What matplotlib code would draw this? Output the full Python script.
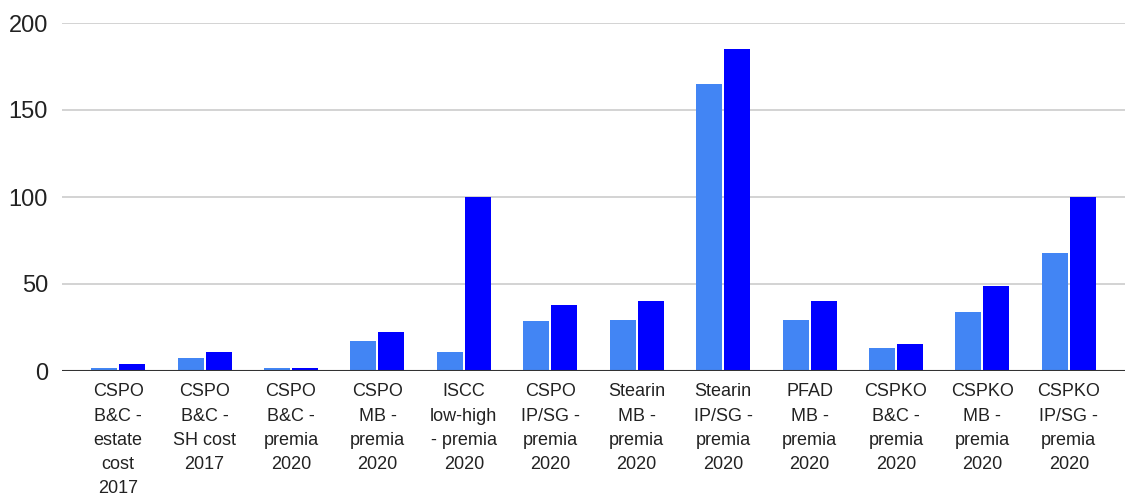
import numpy as np
import matplotlib.pyplot as plt

plt.rcParams['font.family'] = ['Liberation Sans', 'DejaVu Sans']

# categories and values
categories = ['CSPO\nB&C -\nestate\ncost\n2017', 'CSPO\nB&C -\nSH cost\n2017',
              'CSPO\nB&C -\npremia\n2020', 'CSPO\nMB -\npremia\n2020',
              'ISCC\nlow-high\n- premia\n2020', 'CSPO\nIP/SG -\npremia\n2020',
              'Stearin\nMB -\npremia\n2020', 'Stearin\nIP/SG -\npremia\n2020',
              'PFAD\nMB -\npremia\n2020', 'CSPKO\nB&C -\npremia\n2020',
              'CSPKO\nMB -\npremia\n2020', 'CSPKO\nIP/SG -\npremia\n2020']
low_values = [2, 7.5, 2, 17, 11, 28.5, 29.5, 165, 29.5, 13.5, 34, 68]
high_values = [4, 11, 1.8, 22.5, 100, 38, 40, 185, 40, 15.7, 49, 100]
y_ticks = [0, 50, 100, 150, 200]

x = np.arange(len(categories))
w = 0.30

fig = plt.figure(figsize=(11.31, 4.95), dpi=100)
ax = fig.add_axes([62 / 1131, 1 - 371 / 495, (1125 - 62) / 1131, (371 - 23) / 495])

ax.bar(x - w / 2 - 0.012, low_values, width=w, color='#4285F4', zorder=3)
ax.bar(x + w / 2 + 0.012, high_values, width=w, color='#0000FF', zorder=3)

ax.set_xlim(-0.65, len(categories) - 0.35)
ax.set_ylim(0, 200)
ax.set_yticks(y_ticks)
ax.set_yticklabels([str(t) for t in y_ticks], fontsize=17, color='#222222')
ax.set_xticks(x)
ax.set_xticklabels(categories, fontsize=13, color='#222222', linespacing=1.55, va='top')
ax.tick_params(axis='both', length=0)
ax.tick_params(axis='y', pad=10)
ax.tick_params(axis='x', pad=9)

ax.grid(axis='y', color='#cccccc', linewidth=1.2, zorder=0)
ax.axhline(0, color='#333333', linewidth=1.5, zorder=4)
for s in ax.spines.values():
    s.set_visible(False)

fig.savefig('out.png', dpi=100)
